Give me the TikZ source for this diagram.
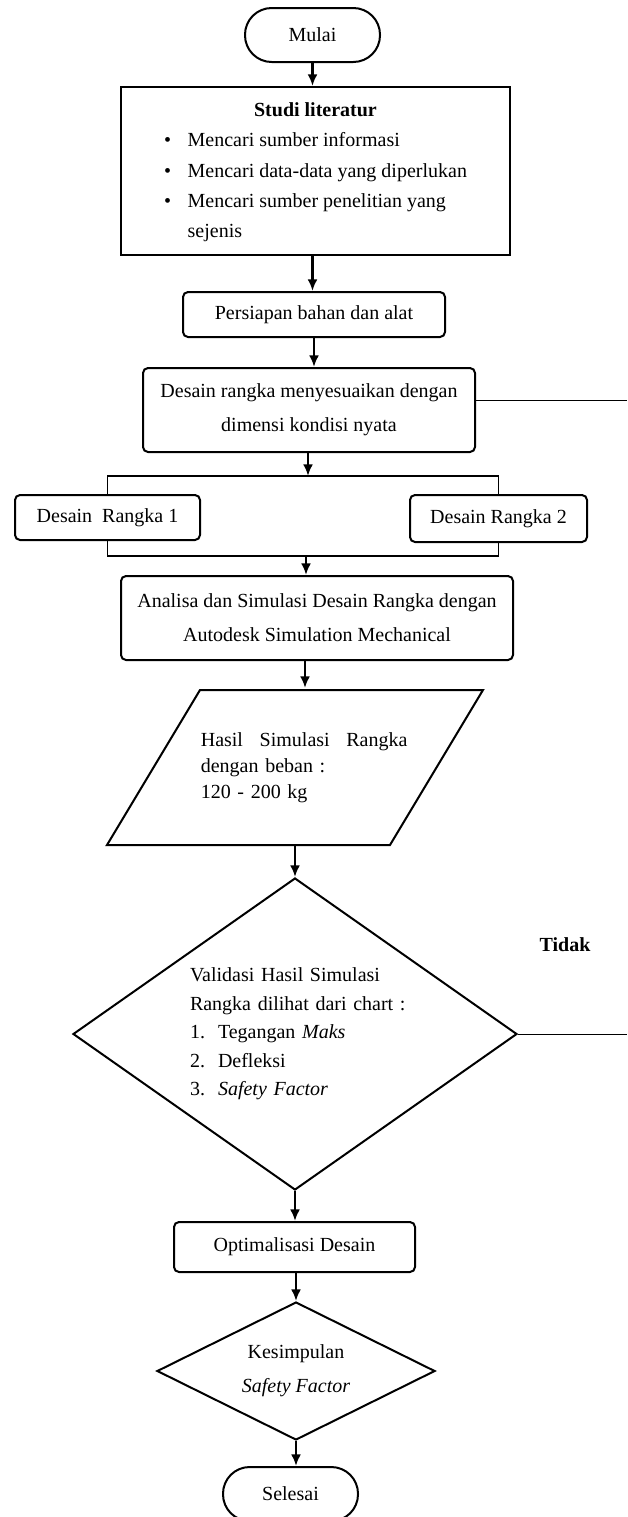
\documentclass[12pt,tikz,border=0pt]{standalone}
\usepackage{fontspec}
\setmainfont{Liberation Serif}
\usetikzlibrary{shapes.geometric,arrows.meta}
\begin{document}
\begin{tikzpicture}[>={Latex[length=7pt,width=6pt]},x=0.6pt,y=-0.6pt,
  kotak/.style={draw,line width=1.2pt,rounded corners=3pt,align=center,inner sep=2pt},
  terminal/.style={draw,line width=1.2pt,rounded corners=16pt,minimum width=81pt,minimum height=32.4pt},
  keputusan/.style={draw,line width=1.2pt,diamond,inner sep=0pt},
  panah/.style={->,line width=1.4pt},
  garis/.style={line width=1pt}]
\useasboundingbox (0,0) rectangle (627,1517);
% alur utama
\node[terminal] (mulai) at (312.5,35) {Mulai};
\node[kotak,rounded corners=0pt,minimum width=233.4pt,minimum height=100.8pt] (studi) at (315.5,171)
  {\renewcommand\arraystretch{1.25}%
   \begin{tabular}{@{}l@{\hspace{10pt}}l@{}}
   \multicolumn{2}{@{}c@{}}{\textbf{Studi literatur}}\\
   \textbullet & Mencari sumber informasi\\
   \textbullet & Mencari data-data yang diperlukan\\
   \textbullet & Mencari sumber penelitian yang\\
               & sejenis
   \end{tabular}};
\node[kotak,minimum width=157.2pt,minimum height=27pt] (persiapan) at (314,314.5) {Persiapan bahan dan alat};
\node[kotak,minimum width=199.2pt,minimum height=50.4pt,font=\fontsize{12}{20.4}\selectfont] (desain) at (309,410)
  {Desain rangka menyesuaikan dengan\\dimensi kondisi nyata};
\node[kotak,minimum width=111pt,minimum height=27pt] (r1) at (107.5,517.5) {Desain~ Rangka 1};
\node[kotak,minimum width=106.2pt,minimum height=28.2pt] (r2) at (498.5,518.5) {Desain Rangka 2};
\node[kotak,minimum width=235.2pt,minimum height=50.4pt,font=\fontsize{12}{20.4}\selectfont] (analisa) at (317,618)
  {Analisa dan Simulasi Desain Rangka dengan\\Autodesk Simulation Mechanical};
% jajaran genjang hasil
\draw[line width=1.2pt] (200,690) -- (483,690) -- (390,845) -- (107,845) -- cycle;
\coordinate (hasilatas) at (295,690);
\coordinate (hasilbawah) at (295,845);
\node[text width=113pt,align=left,font=\fontsize{12}{15.6}\selectfont] (hasil) at (295,768)
  {\makebox[\linewidth][s]{Hasil\hspace{6pt} Simulasi\hspace{6pt} Rangka}\\dengan beban :\\120 - 200 kg};
\node[keputusan,minimum width=266.4pt,minimum height=187.2pt,aspect=1.42,
  text width=126pt,align=left,font=\fontsize{12}{17.1}\selectfont] (validasi) at (295,1034)
  {\makebox[\linewidth][s]{Validasi Hasil Simulasi}\\\mbox{Rangka dilihat dari chart :}\\
   \makebox[16.8pt][l]{1.}Tegangan \textit{Maks}\\
   \makebox[16.8pt][l]{2.}Defleksi\\
   \makebox[16.8pt][l]{3.}\textit{Safety Factor}};
\node[font=\bfseries] (tidak) at (565,945) {Tidak};
\node[kotak,minimum width=144.6pt,minimum height=30pt] (optimal) at (294.5,1247) {Optimalisasi Desain};
\node[keputusan,minimum width=166.8pt,minimum height=82.8pt,aspect=2,align=center,
  font=\fontsize{12}{20.4}\selectfont] (kesimpulan) at (296,1371) {Kesimpulan\\\textit{Safety Factor}};
\node[terminal] (selesai) at (290.5,1494) {Selesai};
% titik bantu
\coordinate (pisah) at (308,476);
\coordinate (gabung) at (306,556);
\coordinate (kanan1) at (627,400);
\coordinate (kanan2) at (627,1034);
% panah
\draw[panah] (mulai.south) -- (mulai.south |- studi.north);
\draw[panah] (studi.south -| mulai) -- (mulai |- persiapan.north);
\draw[panah] (persiapan.south) -- (persiapan.south |- desain.north);
\draw[panah] (desain.south -| pisah) -- (pisah);
\draw[garis] (r1.north) |- (pisah) -| (r2.north);
\draw[garis] (r1.south) |- (gabung) -| (r2.south);
\draw[panah] (gabung) -- (gabung |- analisa.north);
\draw[panah] (analisa.south -| 305,0) -- (305,688);
\draw[panah] (hasilbawah) -- (validasi.north);
\draw[panah] (validasi.south) -- (optimal.north -| validasi.south);
\draw[panah] (optimal.south -| kesimpulan.north) -- (kesimpulan.north);
\draw[panah] (kesimpulan.south) -- (kesimpulan.south |- selesai.north);
\draw[thin] (desain.east |- kanan1) -- (kanan1);
\draw[thin] (validasi.east) -- (kanan2);
\end{tikzpicture}
\end{document}
